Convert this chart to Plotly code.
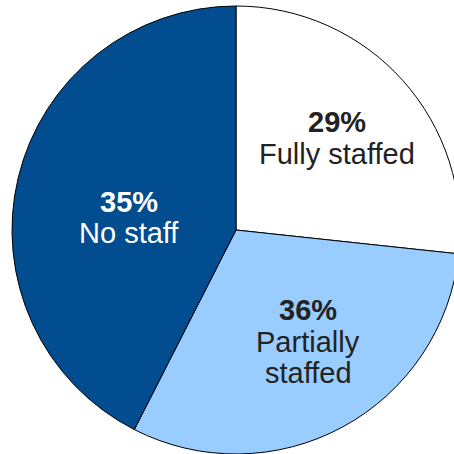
import plotly.graph_objects as go

# Data
categories = ["Fully staffed", "Partially staffed", "No staff"]
label_pct = [29, 36, 35]            # percentages printed on the chart
slice_share = [26.7, 30.8, 42.5]    # angular share of each drawn slice
colors = ["#FFFFFF", "#99CCFF", "#024C90"]
text_colors = ["#222222", "#222222", "#FFFFFF"]
label_lines = [["Fully staffed"], ["Partially", "staffed"], ["No staff"]]

W, H = 460, 454
fig = go.Figure()
fig.add_trace(go.Pie(
    labels=categories,
    values=slice_share,
    sort=False,
    direction="clockwise",
    rotation=0,
    marker=dict(colors=colors, line=dict(color="#000000", width=1)),
    textinfo="none",
    hoverinfo="label",
    showlegend=False,
    domain=dict(x=[12 / W, 1.0], y=[0.0, 448 / H]),
))

# label anchor points (pixel centres of the first text line)
label_pos = [(337, 122), (308, 310), (129, 202)]
fs = 29
for i, cat in enumerate(categories):
    cx, cy = label_pos[i]
    lines = [f"<b>{label_pct[i]}%</b>"] + label_lines[i]
    for j, ln in enumerate(lines):
        fig.add_annotation(
            x=cx / W, y=1 - (cy + j * 31.5) / H,
            xref="paper", yref="paper",
            text=ln, showarrow=False,
            xanchor="center", yanchor="middle",
            font=dict(family="Liberation Sans, Arial, sans-serif", size=fs, color=text_colors[i]),
        )

fig.update_layout(
    width=W, height=H,
    margin=dict(l=0, r=0, t=0, b=0),
    paper_bgcolor="#FFFFFF",
    plot_bgcolor="#FFFFFF",
)
fig.write_html(
    "out.html",
    config={"displayModeBar": False},
    post_script="document.body.style.margin='0';document.body.style.overflow='hidden';",
)
